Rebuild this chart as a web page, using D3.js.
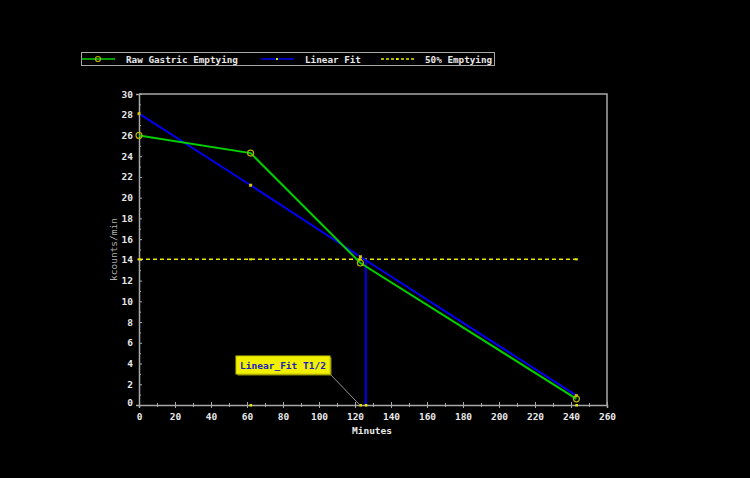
<!DOCTYPE html>
<html>
<head>
<meta charset="utf-8">
<script src="https://cdn.jsdelivr.net/npm/d3@7"></script>
<style>
  html, body { margin: 0; padding: 0; background: #000; }
  svg { display: block; }
  text { font-family: "DejaVu Sans Mono", monospace; font-weight: bold; }
</style>
</head>
<body>
<div id="graph"></div>
<script>
// gastric emptying curve with a linear fit and its half-time

var minutes = [0, 62, 123, 243];
var rawCounts = [26.0, 24.3, 13.7, 0.6];
var fitCounts = [28.1, 21.2, 14.3, 0.9];
var halfLevel = 14.05;
var halfTime = 126;
var halfMarks = [0, 62, 123, 243];
var axisMarks = [62, 123, 126, 243];
var legendNames = ["Raw Gastric Emptying", "Linear Fit", "50% Emptying"];
var calloutText = "Linear_Fit T1/2";

(function() {
	var chart = {
		width: 750,
		height: 478,
		left: 139,
		right: 607,
		top: 94,
		bottom: 405,
		axisColor: "#a8a8a8",
		textColor: "#e8e8e8"
	};

	var svg = d3.select("#graph").append("svg")
		.attr("width", chart.width)
		.attr("height", chart.height);

	svg.append("rect")
		.attr("width", chart.width)
		.attr("height", chart.height)
		.attr("fill", "#000");

	var x = d3.scaleLinear().domain([0, 260]).range([chart.left, chart.right]);
	var y = d3.scaleLinear().domain([0, 30]).range([chart.bottom, chart.top]);

	// frame top and right
	svg.append("path")
		.attr("d", "M" + chart.left + "," + chart.top + "H" + chart.right + "V" + chart.bottom)
		.attr("fill", "none")
		.attr("stroke", chart.axisColor)
		.attr("stroke-width", 1.5);

	// y axis: ticks on both sides of the line
	var yAxis = d3.axisLeft(y).tickValues(d3.range(0, 31, 2)).tickSize(3).tickPadding(3).tickFormat(d3.format("d"));
	var gy = svg.append("g").attr("transform", "translate(" + chart.left + ",0)").call(yAxis);
	gy.selectAll(".tick line").attr("x2", 3);
	gy.selectAll(".tick").filter(function(d) { return d === 0; }).select("text").attr("dy", "0.1em");
	var gyMinor = svg.append("g").attr("transform", "translate(" + chart.left + ",0)")
		.call(d3.axisLeft(y).tickValues(d3.range(1, 30, 2)).tickSize(2).tickFormat(""));
	gyMinor.selectAll(".tick line").attr("x2", 2);
	gyMinor.select(".domain").remove();

	// x axis
	var xAxis = d3.axisBottom(x).tickValues(d3.range(0, 261, 20)).tickSize(3).tickPadding(5).tickFormat(d3.format("d"));
	var gx = svg.append("g").attr("transform", "translate(0," + chart.bottom + ")").call(xAxis);
	gx.selectAll(".tick line").attr("y1", -3);
	var gxMinor = svg.append("g").attr("transform", "translate(0," + chart.bottom + ")")
		.call(d3.axisBottom(x).tickValues(d3.range(10, 260, 20)).tickSize(2).tickFormat(""));
	gxMinor.selectAll(".tick line").attr("y1", -2);
	gxMinor.select(".domain").remove();

	svg.selectAll(".domain").attr("stroke", chart.axisColor).attr("stroke-width", 1.5);
	svg.selectAll(".tick line").attr("stroke", chart.axisColor);
	svg.selectAll(".tick text").attr("fill", chart.textColor).style("font-size", "9.5px").style("font-family", "'DejaVu Sans Mono', monospace").style("font-weight", "bold");

	// axis titles
	svg.append("text")
		.attr("x", (chart.left + chart.right) / 2 - 1)
		.attr("y", 434)
		.attr("text-anchor", "middle")
		.attr("fill", chart.textColor)
		.style("font-size", "9.5px")
		.text("Minutes");

	svg.append("text")
		.attr("transform", "translate(117," + ((chart.top + chart.bottom) / 2) + ") rotate(-90)")
		.attr("text-anchor", "middle")
		.attr("fill", "#b0b0b0")
		.style("font-size", "9.5px")
		.style("font-weight", "normal")
		.text("kcounts/min");

	var lineOf = function(vals) {
		return d3.line()
			.x(function(d, i) { return x(minutes[i]); })
			.y(function(d) { return y(d); })(vals);
	};

	// 50% emptying dashed line
	svg.append("line")
		.attr("x1", x(halfMarks[0]))
		.attr("x2", x(halfMarks[halfMarks.length - 1]))
		.attr("y1", y(halfLevel))
		.attr("y2", y(halfLevel))
		.attr("stroke", "#e8e800")
		.attr("stroke-width", 1.5)
		.attr("stroke-dasharray", "4,3");
	svg.selectAll(".halfMark").data(halfMarks).enter().append("rect")
		.attr("class", "halfMark")
		.attr("x", function(d) { return x(d) - 1.5; })
		.attr("y", y(halfLevel) - 1)
		.attr("width", 3)
		.attr("height", 2)
		.attr("fill", "#e8e800");

	// linear fit
	svg.append("path")
		.attr("d", lineOf(fitCounts))
		.attr("fill", "none")
		.attr("stroke", "#0000f0")
		.attr("stroke-width", 2);

	// half time drop line
	svg.append("line")
		.attr("x1", x(halfTime))
		.attr("x2", x(halfTime))
		.attr("y1", y(halfLevel))
		.attr("y2", y(0))
		.attr("stroke", "#0000f0")
		.attr("stroke-width", 2);

	// raw curve
	svg.append("path")
		.attr("d", lineOf(rawCounts))
		.attr("fill", "none")
		.attr("stroke", "#00d000")
		.attr("stroke-width", 2);

	svg.selectAll(".fitMark").data(fitCounts).enter().append("rect")
		.attr("class", "fitMark")
		.attr("x", function(d, i) { return x(minutes[i]) - 1.5; })
		.attr("y", function(d) { return y(d) - 1.5; })
		.attr("width", 3)
		.attr("height", 3)
		.attr("fill", "#d8c800");

	svg.selectAll(".rawMark").data(rawCounts).enter().append("circle")
		.attr("class", "rawMark")
		.attr("cx", function(d, i) { return x(minutes[i]); })
		.attr("cy", function(d) { return y(d); })
		.attr("r", 3)
		.attr("fill", "none")
		.attr("stroke", "#b8b000")
		.attr("stroke-width", 1.2);

	// yellow marks on the x axis
	svg.selectAll(".axisMark").data(axisMarks).enter().append("rect")
		.attr("class", "axisMark")
		.attr("x", function(d) { return x(d) - 1; })
		.attr("y", chart.bottom - 1)
		.attr("width", 2.5)
		.attr("height", 2.5)
		.attr("fill", "#e8e800");

	// callout
	var box = { x: 236, y: 356, w: 94, h: 18 };
	svg.append("line")
		.attr("x1", box.x + box.w)
		.attr("y1", box.y + box.h)
		.attr("x2", x(halfTime) - 6)
		.attr("y2", chart.bottom)
		.attr("stroke", "#909090")
		.attr("stroke-width", 1);
	svg.append("rect")
		.attr("x", box.x + 1.5)
		.attr("y", box.y + 1.5)
		.attr("width", box.w)
		.attr("height", box.h)
		.attr("fill", "#8a8a00");
	svg.append("rect")
		.attr("x", box.x)
		.attr("y", box.y)
		.attr("width", box.w)
		.attr("height", box.h)
		.attr("fill", "#f0f000")
		.attr("stroke", "#c8c800");
	svg.append("text")
		.attr("x", box.x + box.w / 2)
		.attr("y", box.y + 12.5)
		.attr("text-anchor", "middle")
		.attr("fill", "#2020c0")
		.style("font-size", "9.5px")
		.text(calloutText);

	// legend
	var legend = svg.append("g");
	legend.append("rect")
		.attr("x", 81.5)
		.attr("y", 52.5)
		.attr("width", 413)
		.attr("height", 13)
		.attr("fill", "none")
		.attr("stroke", chart.axisColor);
	var legendX = [82, 261, 381];
	var legendColors = ["#00d000", "#0000f0", "#e8e800"];
	legendNames.forEach(function(name, i) {
		var lx = legendX[i];
		var ln = legend.append("line")
			.attr("x1", lx)
			.attr("x2", lx + 33)
			.attr("y1", 59)
			.attr("y2", 59)
			.attr("stroke", legendColors[i])
			.attr("stroke-width", 1.5);
		if (i === 2) ln.attr("stroke-dasharray", "3,2");
		if (i === 0) {
			legend.append("circle").attr("cx", lx + 16).attr("cy", 59).attr("r", 2.5)
				.attr("fill", "none").attr("stroke", "#b8b000").attr("stroke-width", 1.2);
		} else {
			legend.append("rect").attr("x", lx + 15).attr("y", 58).attr("width", 2).attr("height", 2)
				.attr("fill", "#e8e800");
		}
		legend.append("text")
			.attr("x", lx + 44)
			.attr("y", 62.5)
			.attr("fill", chart.textColor)
			.style("font-size", "9.3px")
			.text(name);
	});
})();
</script>
</body>
</html>
